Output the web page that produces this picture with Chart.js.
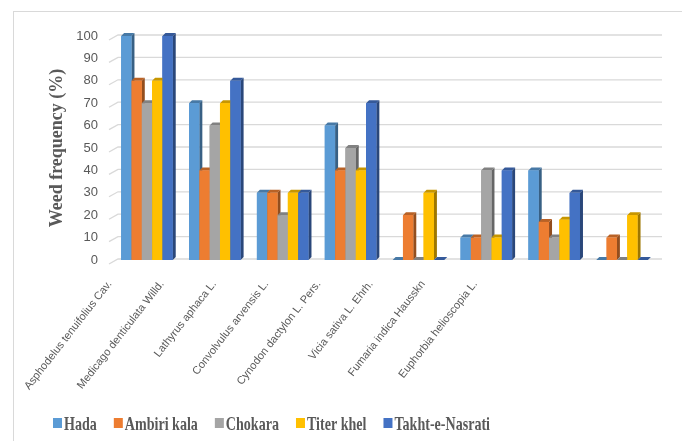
<!DOCTYPE html>
<html>
<head>
<meta charset="utf-8">
<script src="https://cdn.jsdelivr.net/npm/chart.js@4"></script>
<style>
  body { margin: 0; background: #fff; }
  #wrap { position: relative; width: 682px; height: 441px; overflow: hidden; }
  #frame { position: absolute; left: 13px; top: 11px; width: 700px; height: 460px;
           border-left: 1px solid #d9d9d9; border-top: 1px solid #d9d9d9; pointer-events: none; }
</style>
</head>
<body>
<div id="wrap">
  <canvas id="weedChart" width="682" height="441"></canvas>
  <div id="frame"></div>
</div>
<script>
const categories = ['Asphodelus tenuifolius Cav.', 'Medicago denticulata Willd.', 'Lathyrus aphaca L.',
    'Convolvulus arvensis L.', 'Cynodon dactylon L. Pers.', 'Vicia sativa L. Ehrh.',
    'Fumaria indica Hausskn', 'Euphorbia helioscopia L.'];
const hada = [100, 70, 30, 60, 0, 10, 40, 0];
const ambiriKala = [80, 40, 30, 40, 20, 10, 17, 10];
const chokara = [70, 60, 20, 50, 0, 40, 10, 0];
const titerKhel = [80, 70, 30, 40, 30, 10, 18, 20];
const takhtNasrati = [100, 80, 30, 70, 0, 40, 30, 0];
const yTicks = [0, 10, 20, 30, 40, 50, 60, 70, 80, 90, 100];

const grey = '#595959';

function shade(hex, f) {
    const n = parseInt(hex.slice(1), 16);
    const r = Math.round(((n >> 16) & 255) * f);
    const g = Math.round(((n >> 8) & 255) * f);
    const b = Math.round((n & 255) * f);
    return 'rgb(' + r + ',' + g + ',' + b + ')';
}

// back wall grid lines with a short floor slant on the left
const gridPlugin = {
    id: 'wallGrid',
    beforeDatasetsDraw(chart) {
        const ctx = chart.ctx, y = chart.scales.y, area = chart.chartArea;
        ctx.save();
        ctx.strokeStyle = '#d9d9d9';
        ctx.lineWidth = 1.3;
        yTicks.forEach(v => {
            const py = y.getPixelForValue(v);
            ctx.beginPath();
            ctx.moveTo(area.left - 4, py + 4);
            ctx.lineTo(area.left + 5, py - 1);
            ctx.lineTo(area.right + 6, py - 1);
            ctx.stroke();
        });
        ctx.restore();
    }
};

// redraw bars with a top and side face, in series order
const bar3dPlugin = {
    id: 'bar3d',
    afterDatasetsDraw(chart) {
        const ctx = chart.ctx, d = 3;
        ctx.save();
        categories.forEach((c, i) => {
            chart.data.datasets.forEach((ds, j) => {
                const el = chart.getDatasetMeta(j).data[i];
                const p = el.getProps(['x', 'y', 'base', 'width'], true);
                const l = p.x - p.width / 2, r = p.x + p.width / 2;
                ctx.fillStyle = shade(ds.backgroundColor, 0.62);
                ctx.beginPath();
                ctx.moveTo(r, p.y); ctx.lineTo(r + d, p.y - d);
                ctx.lineTo(r + d, p.base - d); ctx.lineTo(r, p.base);
                ctx.closePath(); ctx.fill();
                ctx.fillStyle = shade(ds.backgroundColor, 0.78);
                ctx.beginPath();
                ctx.moveTo(l, p.y); ctx.lineTo(l + d, p.y - d);
                ctx.lineTo(r + d, p.y - d); ctx.lineTo(r, p.y);
                ctx.closePath(); ctx.fill();
                ctx.fillStyle = ds.backgroundColor;
                ctx.fillRect(l, p.y, r - l, p.base - p.y);
            });
        });
        ctx.restore();
    }
};

// legend row, text squeezed like the original
const legendPlugin = {
    id: 'squeezedLegend',
    afterDraw(chart) {
        const ctx = chart.ctx, sx = 0.74;
        ctx.save();
        ctx.translate(53, 0);
        ctx.scale(sx, 1);
        ctx.font = 'bold 19px "Liberation Serif"';
        let cx = 0;
        chart.data.datasets.forEach(ds => {
            ctx.fillStyle = ds.backgroundColor;
            ctx.fillRect(cx, 418, 9 / sx, 10);
            cx += 11 / sx;
            ctx.fillStyle = grey;
            ctx.fillText(ds.label, cx, 430);
            cx += ctx.measureText(ds.label).width + 17 / sx;
        });
        ctx.restore();
    }
};

const ctx = document.getElementById('weedChart').getContext('2d');
const weedChart = new Chart(ctx, {
    type: 'bar',
    data: {
        labels: categories,
        datasets: [
            { label: 'Hada', data: hada, backgroundColor: '#5B9BD5' },
            { label: 'Ambiri kala', data: ambiriKala, backgroundColor: '#ED7D31' },
            { label: 'Chokara', data: chokara, backgroundColor: '#A5A5A5' },
            { label: 'Titer khel', data: titerKhel, backgroundColor: '#FFC000' },
            { label: 'Takht-e-Nasrati', data: takhtNasrati, backgroundColor: '#4472C4' }
        ]
    },
    options: {
        responsive: false,
        animation: false,
        layout: { padding: { left: 0, right: 26, top: 36, bottom: 0 } },
        datasets: { bar: { categoryPercentage: 0.76, barPercentage: 1 } },
        plugins: { legend: { display: false }, tooltip: { enabled: false } },
        scales: {
            x: { type: 'category', display: false, offset: true },
            // label axis: the original's labels sit on a tighter pitch than the bar groups
            x2: {
                type: 'linear', position: 'bottom', offset: false, min: 0.06, max: 10.46,
                afterBuildTicks: s => { s.ticks = categories.map((c, i) => ({ value: i })); },
                afterFit: s => { s.height = 181; },
                grid: { display: false, drawTicks: false },
                border: { display: false },
                ticks: {
                    callback: v => categories[v],
                    autoSkip: false, minRotation: 52, maxRotation: 52, padding: 18,
                    color: grey, font: { family: 'Liberation Sans', size: 11 }
                }
            },
            y: {
                min: 0, max: 100,
                afterBuildTicks: s => { s.ticks = yTicks.map(v => ({ value: v })); },
                afterFit: s => { s.width = 113; },
                grid: { display: false, drawTicks: false },
                border: { display: false },
                ticks: { padding: 15, color: grey, font: { family: 'Liberation Sans', size: 13 } },
                title: {
                    display: true, text: 'Weed frequency (%)', color: grey,
                    padding: { top: 47, bottom: 0 },
                    font: { family: 'Liberation Serif', size: 18, weight: 'bold' }
                }
            }
        }
    },
    plugins: [gridPlugin, bar3dPlugin, legendPlugin]
});
</script>
</body>
</html>
